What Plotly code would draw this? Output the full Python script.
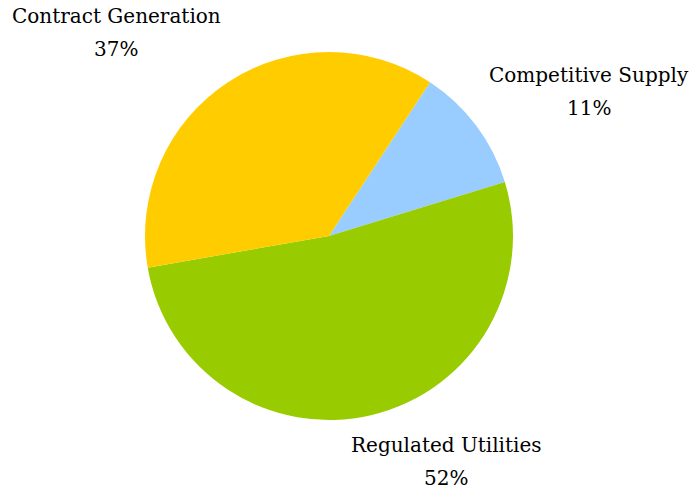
import plotly.graph_objects as go

categories = ["Competitive Supply", "Regulated Utilities", "Contract Generation"]
values = [11, 52, 37]
colors = ["#99CCFF", "#99CC00", "#FFCC00"]

W, H = 699, 494
cx, cy, r = 329, 236, 184

fig = go.Figure(go.Pie(
    labels=categories,
    values=values,
    marker=dict(colors=colors, line=dict(width=0)),
    sort=False,
    direction="clockwise",
    rotation=33.3,
    textinfo="none",
    hoverinfo="label+percent",
    showlegend=False,
    domain=dict(x=[(cx - r) / W, (cx + r) / W], y=[(H - cy - r) / H, (H - cy + r) / H]),
))

font = dict(family="DejaVu Serif, Liberation Serif, serif", size=20, color="#000000")
label_pos = {
    "Contract Generation": (116, 16, 49),
    "Competitive Supply": (589, 75, 108),
    "Regulated Utilities": (446, 445, 478),
}
annotations = []
for cat, val in zip(categories, values):
    x, y1, y2 = label_pos[cat]
    for txt, yy in ((cat, y1), (f"{val}%", y2)):
        annotations.append(dict(
            text=txt, x=x / W, y=1 - yy / H, xref="paper", yref="paper",
            xanchor="center", yanchor="middle", showarrow=False, font=font,
        ))

fig.update_layout(
    width=W, height=H,
    margin=dict(l=0, r=0, t=0, b=0),
    paper_bgcolor="white", plot_bgcolor="white",
    annotations=annotations,
)
fig.write_html(
    "out.html",
    config={"displayModeBar": False},
    post_script="document.body.style.margin='0';document.body.style.overflow='hidden';",
)
